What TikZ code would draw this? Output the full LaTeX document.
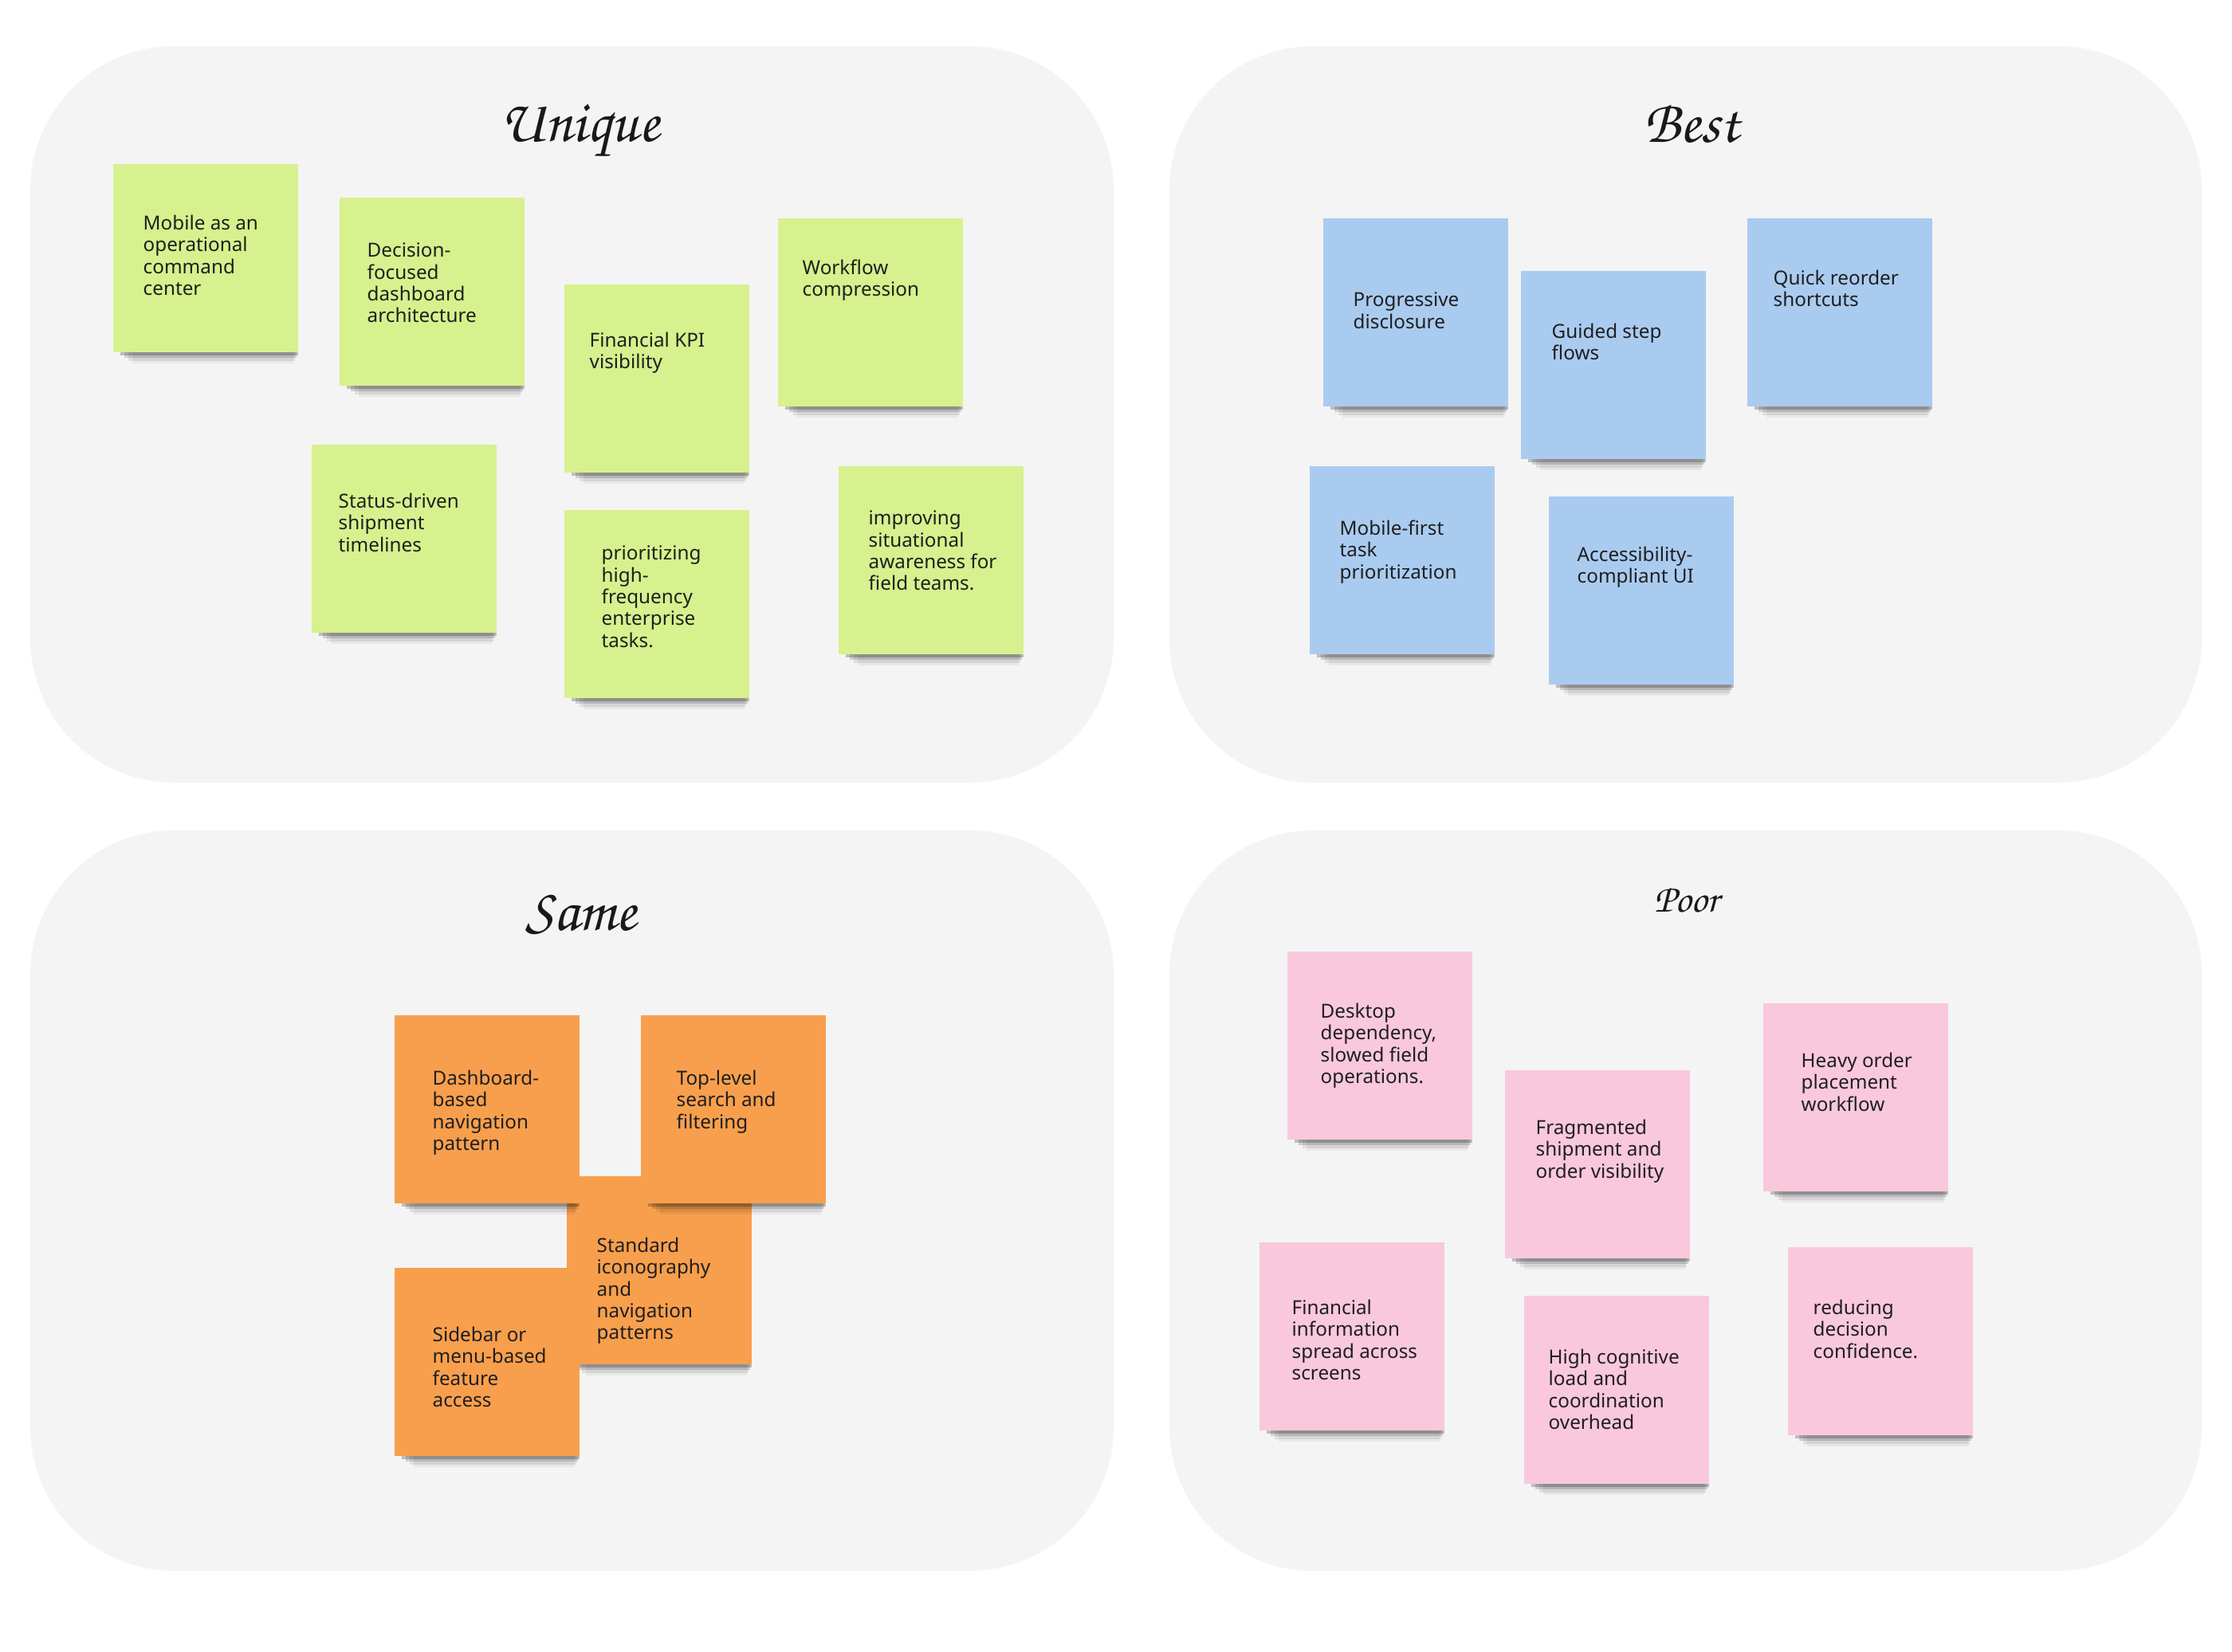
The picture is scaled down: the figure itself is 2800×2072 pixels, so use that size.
\documentclass[tikz,border=0pt]{standalone}
\usepackage[T1]{fontenc}
\usepackage{fontspec}
\setmainfont{Noto Sans}
\usetikzlibrary{shadows}
\definecolor{panelgray}{RGB}{244,244,244}
\definecolor{notegreen}{RGB}{214,241,141}
\definecolor{noteblue}{RGB}{170,203,240}
\definecolor{noteorange}{RGB}{248,159,77}
\definecolor{notepink}{RGB}{249,200,220}
\newcommand{\titlehand}{\usefont{T1}{pzc}{mb}{it}}

\begin{document}
\begin{tikzpicture}[x=0.01cm, y=-0.01cm,
	panel/.style={fill=panelgray, rounded corners=1.8cm},
	title/.style={font=\titlehand\fontsize{21.5}{22}\selectfont, anchor=base, text=black!90},
	note/.style={anchor=north west, minimum width=2.32cm, minimum height=2.36cm, inner sep=0pt,
		general shadow={fill=black, opacity=.22, shadow scale=.96, shadow xshift=1.5pt, shadow yshift=-2.5pt},
		general shadow={fill=black, opacity=.14, shadow scale=.93, shadow xshift=2pt, shadow yshift=-4.6pt},
		general shadow={fill=black, opacity=.08, shadow scale=.90, shadow xshift=2.5pt, shadow yshift=-7.1pt},
		general shadow={fill=black, opacity=.05, shadow scale=.87, shadow xshift=3pt, shadow yshift=-9.5pt}},
	notetext/.style={anchor=north west, align=left, inner sep=0pt, text=black!88, font=\fontsize{6.9}{7.8}\selectfont}]
	\useasboundingbox (0,0) rectangle (2800,2072);
	\fill[white] (0,0) rectangle (2800,2072);
	\fill[panel] (38,58) rectangle (1397,982);
	\fill[panel] (1467,58) rectangle (2762,982);
	\fill[panel] (38,1042) rectangle (1397,1971);
	\fill[panel] (1467,1042) rectangle (2762,1971);

	\node[title] (tu) at (727,177) {Unique};
	\node[title] (tb) at (2122,178) {Best};
	\node[title] (ts) at (729,1167) {Same};
	\node[title, font=\titlehand\fontsize{14.2}{15}\selectfont] (tp) at (2116,1144) {Poor};

	\node[note, fill=notegreen] (u1) at (141,205) {};
	\node[notetext] (u1t) at ([shift={(38,64)}]u1.north west) {Mobile as an\\operational\\command\\center};
	\node[note, fill=notegreen] (u2) at (425,247) {};
	\node[notetext] (u2t) at ([shift={(35,57)}]u2.north west) {Decision-\\focused\\dashboard\\architecture};
	\node[note, fill=notegreen] (u3) at (707,356) {};
	\node[notetext] (u3t) at ([shift={(32,60)}]u3.north west) {Financial KPI\\visibility};
	\node[note, fill=notegreen] (u4) at (975,273) {};
	\node[notetext] (u4t) at ([shift={(31,52)}]u4.north west) {Workflow\\compression};
	\node[note, fill=notegreen] (u5) at (390,557) {};
	\node[notetext] (u5t) at ([shift={(34,61)}]u5.north west) {Status-driven\\shipment\\timelines};
	\node[note, fill=notegreen] (u6) at (707,639) {};
	\node[notetext] (u6t) at ([shift={(47,45)}]u6.north west) {prioritizing\\high-\\frequency\\enterprise\\tasks.};
	\node[note, fill=notegreen] (u7) at (1051,584) {};
	\node[notetext] (u7t) at ([shift={(38,56)}]u7.north west) {improving\\situational\\awareness for\\field teams.};

	\node[note, fill=noteblue] (b1) at (1659,273) {};
	\node[notetext] (b1t) at ([shift={(38,93)}]b1.north west) {Progressive\\disclosure};
	\node[note, fill=noteblue] (b2) at (1907,339) {};
	\node[notetext] (b2t) at ([shift={(39,66)}]b2.north west) {Guided step\\flows};
	\node[note, fill=noteblue] (b3) at (2191,273) {};
	\node[notetext] (b3t) at ([shift={(33,65)}]b3.north west) {Quick reorder\\shortcuts};
	\node[note, fill=noteblue] (b4) at (1642,584) {};
	\node[notetext] (b4t) at ([shift={(38,68)}]b4.north west) {Mobile-first\\task\\prioritization};
	\node[note, fill=noteblue] (b5) at (1942,622) {};
	\node[notetext] (b5t) at ([shift={(36,63)}]b5.north west) {Accessibility-\\compliant UI};

	\node[note, fill=noteorange] (s3) at (710,1475) {};
	\node[notetext] (s3t) at ([shift={(38,77)}]s3.north west) {Standard\\iconography\\and\\navigation\\patterns};
	\node[note, fill=noteorange] (s1) at (494,1273) {};
	\node[notetext] (s1t) at ([shift={(48,69)}]s1.north west) {Dashboard-\\based\\navigation\\pattern};
	\node[note, fill=noteorange] (s2) at (803,1273) {};
	\node[notetext] (s2t) at ([shift={(45,69)}]s2.north west) {Top-level\\search and\\filtering};
	\node[note, fill=noteorange] (s4) at (494,1590) {};
	\node[notetext] (s4t) at ([shift={(48,74)}]s4.north west) {Sidebar or\\menu-based\\feature\\access};

	\node[note, fill=notepink] (p1) at (1614,1193) {};
	\node[notetext] (p1t) at ([shift={(42,65)}]p1.north west) {Desktop\\dependency,\\slowed field\\operations.};
	\node[note, fill=notepink] (p2) at (1887,1342) {};
	\node[notetext] (p2t) at ([shift={(39,62)}]p2.north west) {Fragmented\\shipment and\\order visibility};
	\node[note, fill=notepink] (p3) at (2211,1258) {};
	\node[notetext] (p3t) at ([shift={(48,62)}]p3.north west) {Heavy order\\placement\\workflow};
	\node[note, fill=notepink] (p4) at (1579,1558) {};
	\node[notetext] (p4t) at ([shift={(41,72)}]p4.north west) {Financial\\information\\spread across\\screens};
	\node[note, fill=notepink] (p5) at (1911,1625) {};
	\node[notetext] (p5t) at ([shift={(31,67)}]p5.north west) {High cognitive\\load and\\coordination\\overhead};
	\node[note, fill=notepink] (p6) at (2242,1564) {};
	\node[notetext] (p6t) at ([shift={(32,66)}]p6.north west) {reducing\\decision\\confidence.};
\end{tikzpicture}
\end{document}
